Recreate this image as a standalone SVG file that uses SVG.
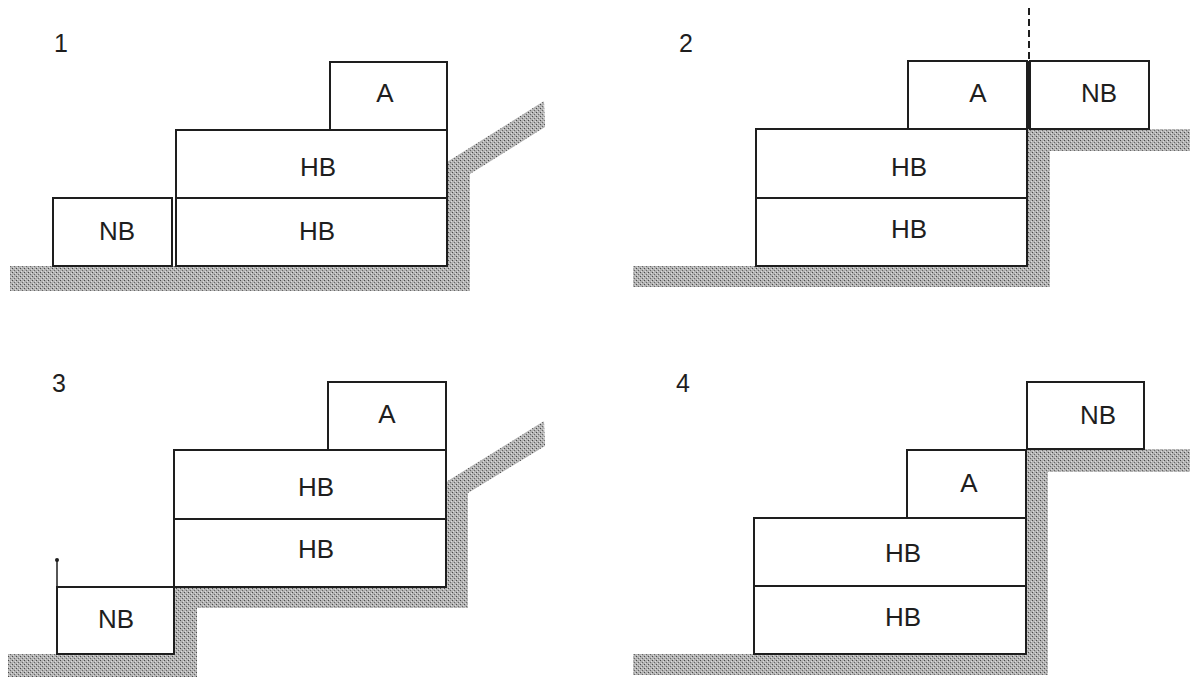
<svg xmlns="http://www.w3.org/2000/svg" width="1190" height="679" viewBox="0 0 1190 679">
<defs>
<pattern id="stip" width="4" height="4" patternUnits="userSpaceOnUse">
<rect width="4" height="4" fill="#b2b2b2"/>
<rect x="0" y="0" width="1" height="1" fill="#4a4a4a"/>
<rect x="2" y="2" width="1" height="1" fill="#666"/>
<rect x="1" y="3" width="1" height="1" fill="#dcdcdc"/>
<rect x="3" y="1" width="1" height="1" fill="#dcdcdc"/>
</pattern>
</defs>
<style>
.g{fill:url(#stip);stroke:none}
.b{fill:#fff;stroke:#1e1e1e;stroke-width:2}
.t{font-family:"Liberation Sans",Arial,sans-serif;font-size:26px;fill:#1e1e1e;text-anchor:middle}
.n{font-family:"Liberation Sans",Arial,sans-serif;font-size:25px;fill:#1e1e1e;text-anchor:middle}
</style>
<rect width="1190" height="679" fill="#fff"/>

<g id="ground">
<polygon class="g" points="10,266 447,266 447,162 544,101 545,127 470,174 470,291 10,291"/>
<polygon class="g" points="633,266 1027,266 1027,129 1190,129 1190,151 1050,151 1050,287 633,287"/>
<polygon class="g" points="8,654 174,654 174,587 446,587 446,482 544,421 545,446 468,493 468,608 197,608 197,677 8,677"/>
<polygon class="g" points="633,654 1026,654 1026,449 1190,449 1190,472 1048,472 1048,675 633,675"/>
</g>

<g id="labels">
<text class="n" x="61" y="52">1</text>
<text class="n" x="686" y="52">2</text>
<text class="n" x="59" y="392">3</text>
<text class="n" x="683" y="392">4</text>
</g>

<!-- Panel 1 -->
<g id="p1-nb"><rect class="b" x="53" y="198" width="119" height="68"/><text class="t" x="117" y="240">NB</text></g>
<g id="p1-hb-lower"><rect class="b" x="176" y="198" width="271" height="68"/><text class="t" x="317" y="240">HB</text></g>
<g id="p1-hb-upper"><rect class="b" x="176" y="130" width="271" height="68"/><text class="t" x="318" y="176">HB</text></g>
<g id="p1-a"><rect class="b" x="330" y="62" width="117" height="68"/><text class="t" x="385" y="102">A</text></g>

<!-- Panel 2 -->
<g id="p2-hb-lower"><rect class="b" x="756" y="198" width="271" height="68"/><text class="t" x="909" y="238">HB</text></g>
<g id="p2-hb-upper"><rect class="b" x="756" y="129" width="271" height="69"/><text class="t" x="909" y="176">HB</text></g>
<g id="p2-a"><rect class="b" x="908" y="61" width="119" height="68"/><text class="t" x="978" y="102">A</text></g>
<g id="p2-nb"><rect class="b" x="1030" y="61" width="119" height="68"/><text class="t" x="1099" y="102">NB</text></g>

<!-- Panel 3 -->
<g id="p3-nb"><rect class="b" x="57" y="587" width="117" height="67"/><text class="t" x="116" y="628">NB</text></g>
<g id="p3-hb-lower"><rect class="b" x="174" y="519" width="272" height="68"/><text class="t" x="316" y="558">HB</text></g>
<g id="p3-hb-upper"><rect class="b" x="174" y="450" width="272" height="69"/><text class="t" x="316" y="496">HB</text></g>
<g id="p3-a"><rect class="b" x="328" y="382" width="118" height="68"/><text class="t" x="387" y="423">A</text></g>

<!-- Panel 4 -->
<g id="p4-hb-lower"><rect class="b" x="754" y="586" width="272" height="68"/><text class="t" x="903" y="626">HB</text></g>
<g id="p4-hb-upper"><rect class="b" x="754" y="518" width="272" height="68"/><text class="t" x="903" y="562">HB</text></g>
<g id="p4-a"><rect class="b" x="907" y="450" width="119" height="68"/><text class="t" x="969" y="492">A</text></g>
<g id="p4-nb"><rect class="b" x="1027" y="382" width="117" height="67"/><text class="t" x="1098" y="424">NB</text></g>

<g id="connectors" fill="none" stroke="#1e1e1e">
<line x1="1029" y1="8" x2="1029" y2="60" stroke-width="2" stroke-dasharray="7,4"/>
<line x1="1029" y1="61" x2="1029" y2="129" stroke-width="4"/>
<line x1="57" y1="560" x2="57" y2="587" stroke-width="1.5"/>
<circle cx="57" cy="560" r="2" fill="#1e1e1e" stroke="none"/>
</g>
</svg>
